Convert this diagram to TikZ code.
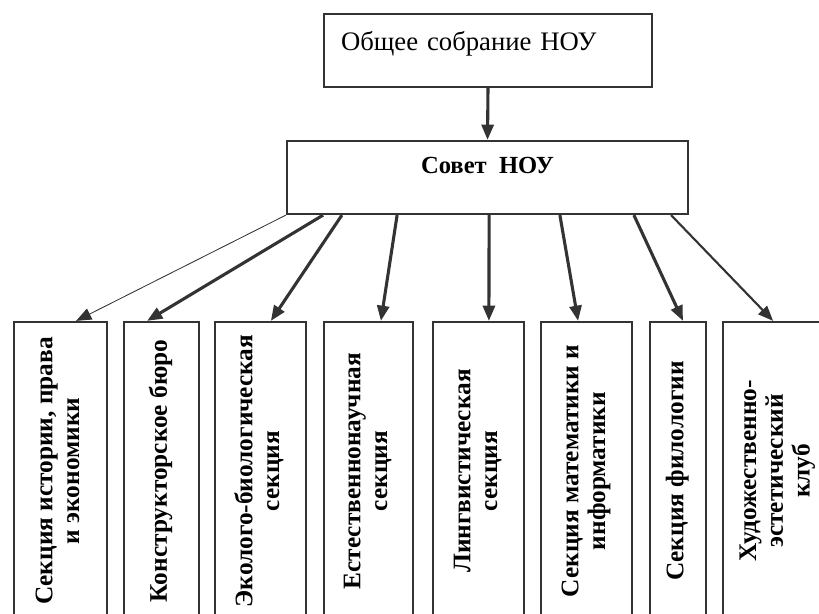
\documentclass[tikz,border=0pt]{standalone}
\usepackage{fontspec}
\setmainfont{Liberation Serif}
\usepackage{tikz}
\usetikzlibrary{arrows.meta}

\newcommand{\vtext}[1]{\rotatebox{90}{\begin{tabular}{@{}c@{}}#1\end{tabular}}}

\begin{document}
\begin{tikzpicture}[
    unit/.style={draw=black!80, line width=1.6pt, fill=white, inner sep=0pt},
    secbox/.style={unit, minimum height=7.45cm, font=\fontsize{18}{19}\selectfont\bfseries},
    link/.style={draw=black!80, line width=2.2pt, -{Triangle[length=0.38cm, width=0.3cm]}}
  ]
    \useasboundingbox (0,0) rectangle (20.475,15.325);
    \clip (0,0) rectangle (20.475,15.325);

    % Top level
    \node[unit, minimum width=8.2cm, minimum height=1.825cm, text width=7.35cm, align=left,
          text height=0.5cm, text depth=0.5cm, font=\fontsize{19}{23}\selectfont]
          (meeting) at (12.2,14.06) {Общее собрание НОУ};
    \node[unit, minimum width=10.025cm, minimum height=1.825cm,
          text height=0.4cm, text depth=0.62cm, font=\fontsize{17.5}{20}\selectfont\bfseries]
          (council) at (12.1875,10.8875) {Совет \ НОУ};

    % Sections
    \node[secbox, minimum width=2.325cm] (sec1) at (1.5125,3.55) {\vtext{Секция истории, права\\и экономики}};
    \node[secbox, minimum width=1.875cm] (sec2) at (4.0375,3.55) {\vtext{Конструкторское бюро}};
    \node[secbox, minimum width=2.275cm] (sec3) at (6.5125,3.55) {\vtext{Эколого-биологическая\\секция}};
    \node[secbox, minimum width=2.225cm] (sec4) at (9.2125,3.55) {\vtext{Естественнонаучная\\секция}};
    \node[secbox, minimum width=2.275cm] (sec5) at (11.9625,3.55) {\vtext{Лингвистическая\\секция}};
    \node[secbox, minimum width=2.275cm] (sec6) at (14.6625,3.55) {\vtext{Секция математики и\\информатики}};
    \node[secbox, minimum width=1.4cm] (sec7) at (16.95,3.55) {\vtext{Секция филологии}};
    \node[secbox, minimum width=2.725cm] (sec8) at (19.4375,3.55) {\vtext{Художественно-\\эстетический\\клуб}};

    % Arrows
    \draw[link] (meeting.south) -- (council.north);
    \draw[link, line width=0.6pt] (council.south west) -- ([xshift=0.39cm]sec1.north);
    \draw[link] ([xshift=-4.11cm]council.south) -- ([xshift=-0.36cm]sec2.north);
    \draw[link] ([xshift=-3.64cm]council.south) -- ([xshift=0.26cm]sec3.north);
    \draw[link] ([xshift=-2.26cm]council.south) -- ([xshift=0.31cm]sec4.north);
    \draw[link] ([xshift=0.04cm]council.south) -- ([xshift=0.26cm]sec5.north);
    \draw[link] ([xshift=1.81cm]council.south) -- ([xshift=-0.21cm]sec6.north);
    \draw[link] ([xshift=3.66cm]council.south) -- ([xshift=0.125cm]sec7.north);
    \draw[link, line width=1.5pt] ([xshift=4.59cm]council.south) -- ([xshift=-0.11cm]sec8.north);
\end{tikzpicture}
\end{document}
